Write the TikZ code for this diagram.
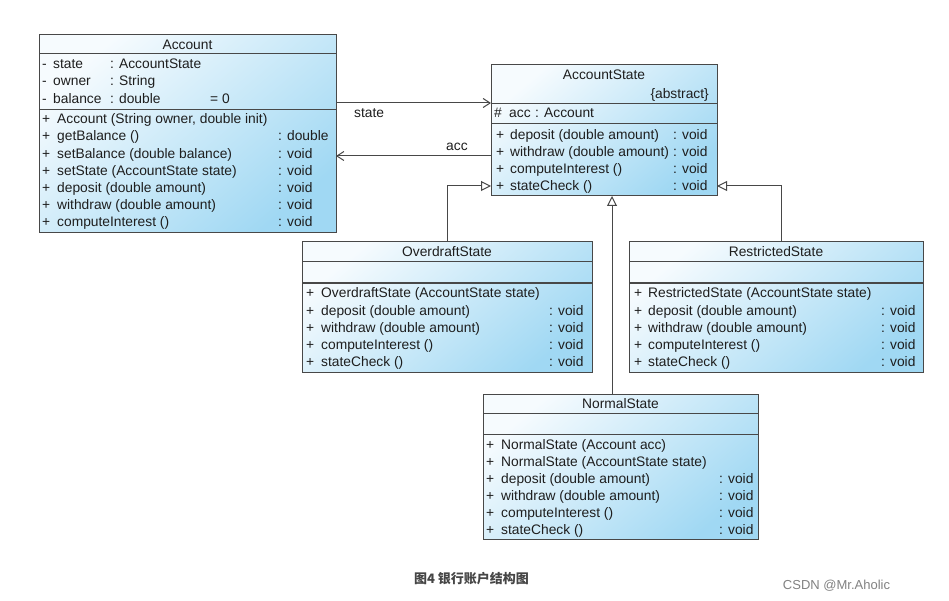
\documentclass[tikz,border=0pt]{standalone}
\usepackage{fontspec}
\setmainfont{Liberation Sans}
\newfontfamily\cjk{Noto Sans CJK SC}
\usetikzlibrary{arrows.meta}
\definecolor{ink}{RGB}{30,30,30}
\definecolor{edgec}{RGB}{72,72,72}
\definecolor{blueA}{RGB}{246,251,254}
\definecolor{blueB}{RGB}{160,216,243}
\tikzset{
 cls/.style={draw=edgec, line width=1pt, top color=blueA, bottom color=blueB, shading angle=40, anchor=north west, inner sep=0pt, outer sep=0pt},
 t/.style={inner sep=0pt, anchor=base west, text=ink, font=\fontsize{13.8}{16}\selectfont},
 ttl/.style={t, anchor=base},
 sepline/.style={draw=edgec, line width=1pt},
 assoc/.style={draw=edgec, line width=1pt, -{Straight Barb[length=7pt,width=9pt]}},
 gen/.style={draw=edgec, line width=1pt, -{Triangle[open, length=10pt, width=10pt, fill=white]}},
}
\newcommand\umlrow[7]{%
 \node[t] (#1p) at (#2,#5+5) {+};
 \node[t] (#1) at (#3,#5+5) {#6};
 \if\relax\detokenize{#7}\relax\else\node[t] (#1t) at (#4,#5+5) {: #7};\fi
}
\begin{document}
\begin{tikzpicture}[x=1pt,y=-1pt]
\fill[white] (0,0) rectangle (949,601);
\useasboundingbox (0,0) rectangle (949,601);

% ---------- Account ----------
\node[cls, minimum width=297pt, minimum height=198pt] (account) at (39,35) {};
\draw[sepline] (account.west |- 0,54) -- (account.east |- 0,54);
\draw[sepline] (account.west |- 0,110) -- (account.east |- 0,110);
\node[ttl] (accountT) at (187.5,49.5) {Account};
\node[t] (aa1d) at (42,69) {-};
\node[t] (aa1) at (53,69) {state};
\node[t] (aa1t) at (110,69) {: AccountState};
\node[t] (aa2d) at (42,86) {-};
\node[t] (aa2) at (53,86) {owner};
\node[t] (aa2t) at (110,86) {: String};
\node[t] (aa3d) at (42,104) {-};
\node[t] (aa3) at (53,104) {balance};
\node[t] (aa3t) at (110,104) {: double};
\node[t] (aa3v) at (210,104) {= 0};
\umlrow{am1}{42}{57}{278}{119}{Account (String owner, double init)}{}
\umlrow{am2}{42}{57}{278}{136}{getBalance ()}{double}
\umlrow{am3}{42}{57}{278}{153.5}{setBalance (double balance)}{void}
\umlrow{am4}{42}{57}{278}{171}{setState (AccountState state)}{void}
\umlrow{am5}{42}{57}{278}{188}{deposit (double amount)}{void}
\umlrow{am6}{42}{57}{278}{205}{withdraw (double amount)}{void}
\umlrow{am7}{42}{57}{278}{222}{computeInterest ()}{void}

% ---------- AccountState ----------
\node[cls, minimum width=226pt, minimum height=131pt] (accstate) at (491,65) {};
\draw[sepline] (accstate.west |- 0,104) -- (accstate.east |- 0,104);
\draw[sepline] (accstate.west |- 0,124) -- (accstate.east |- 0,124);
\node[ttl] (accstateT) at (604,80) {AccountState};
\node[t, anchor=base east] (accstateA) at (709,99) {\{abstract\}};
\node[t] (sa1p) at (494,118) {\#};
\node[t] (sa1) at (509,118) {acc};
\node[t] (sa1t) at (535,118) {: Account};
\umlrow{sm1}{496}{510}{673}{134.5}{deposit (double amount)}{void}
\umlrow{sm2}{496}{510}{673}{151.5}{withdraw (double amount)}{void}
\umlrow{sm3}{496}{510}{673}{168.5}{computeInterest ()}{void}
\umlrow{sm4}{496}{510}{673}{186}{stateCheck ()}{void}

% ---------- OverdraftState ----------
\node[cls, minimum width=290pt, minimum height=130pt] (overdraft) at (302,242) {};
\draw[sepline] (overdraft.west |- 0,262) -- (overdraft.east |- 0,262);
\draw[sepline] (overdraft.west |- 0,283) -- (overdraft.east |- 0,283);
\node[ttl] (overdraftT) at (447,256.5) {OverdraftState};
\umlrow{om1}{306}{321}{549}{292}{OverdraftState (AccountState state)}{}
\umlrow{om2}{306}{321}{549}{310}{deposit (double amount)}{void}
\umlrow{om3}{306}{321}{549}{327}{withdraw (double amount)}{void}
\umlrow{om4}{306}{321}{549}{344}{computeInterest ()}{void}
\umlrow{om5}{306}{321}{549}{361}{stateCheck ()}{void}

% ---------- RestrictedState ----------
\node[cls, minimum width=294pt, minimum height=130pt] (restricted) at (629,242) {};
\draw[sepline] (restricted.west |- 0,262) -- (restricted.east |- 0,262);
\draw[sepline] (restricted.west |- 0,283) -- (restricted.east |- 0,283);
\node[ttl] (restrictedT) at (776,256.5) {RestrictedState};
\umlrow{rm1}{634}{648}{881}{292}{RestrictedState (AccountState state)}{}
\umlrow{rm2}{634}{648}{881}{310}{deposit (double amount)}{void}
\umlrow{rm3}{634}{648}{881}{327}{withdraw (double amount)}{void}
\umlrow{rm4}{634}{648}{881}{344}{computeInterest ()}{void}
\umlrow{rm5}{634}{648}{881}{361}{stateCheck ()}{void}

% ---------- NormalState ----------
\node[cls, minimum width=275pt, minimum height=145pt] (normal) at (483,394) {};
\draw[sepline] (normal.west |- 0,413) -- (normal.east |- 0,413);
\draw[sepline] (normal.west |- 0,434) -- (normal.east |- 0,434);
\node[ttl] (normalT) at (620.5,408.5) {NormalState};
\umlrow{nm1}{486}{501}{719}{444}{NormalState (Account acc)}{}
\umlrow{nm2}{486}{501}{719}{461}{NormalState (AccountState state)}{}
\umlrow{nm3}{486}{501}{719}{478}{deposit (double amount)}{void}
\umlrow{nm4}{486}{501}{719}{495}{withdraw (double amount)}{void}
\umlrow{nm5}{486}{501}{719}{512}{computeInterest ()}{void}
\umlrow{nm6}{486}{501}{719}{529}{stateCheck ()}{void}

% ---------- Associations ----------
\coordinate (ys) at (0,103);
\draw[assoc] (account.east |- ys) -- (accstate.west |- ys);
\node[t] (lstate) at (354,118) {state};
\coordinate (ya) at (0,156);
\draw[assoc] (accstate.west |- ya) -- (account.east |- ya);
\node[t] (lacc) at (446,151) {acc};

% ---------- Generalizations ----------
\coordinate (g1) at (447,186);
\draw[gen] (overdraft.north -| g1) |- (accstate.west |- g1);
\coordinate (g2) at (781,186);
\draw[gen] (restricted.north -| g2) |- (accstate.east |- g2);
\coordinate (g3) at (612,0);
\draw[gen] (normal.north -| g3) -- (accstate.south -| g3);

% ---------- Caption ----------
\node[inner sep=0pt, text={rgb,255:red,70;green,70;blue,70}, font=\cjk\bfseries\fontsize{13}{15}\selectfont] (caption) at (471.5,579) {图4 银行账户结构图};
\node[inner sep=0pt, text={rgb,255:red,130;green,130;blue,130}, font=\fontsize{13}{15}\selectfont] (mark) at (836.5,586) {CSDN @Mr.Aholic};
\end{tikzpicture}
\end{document}
